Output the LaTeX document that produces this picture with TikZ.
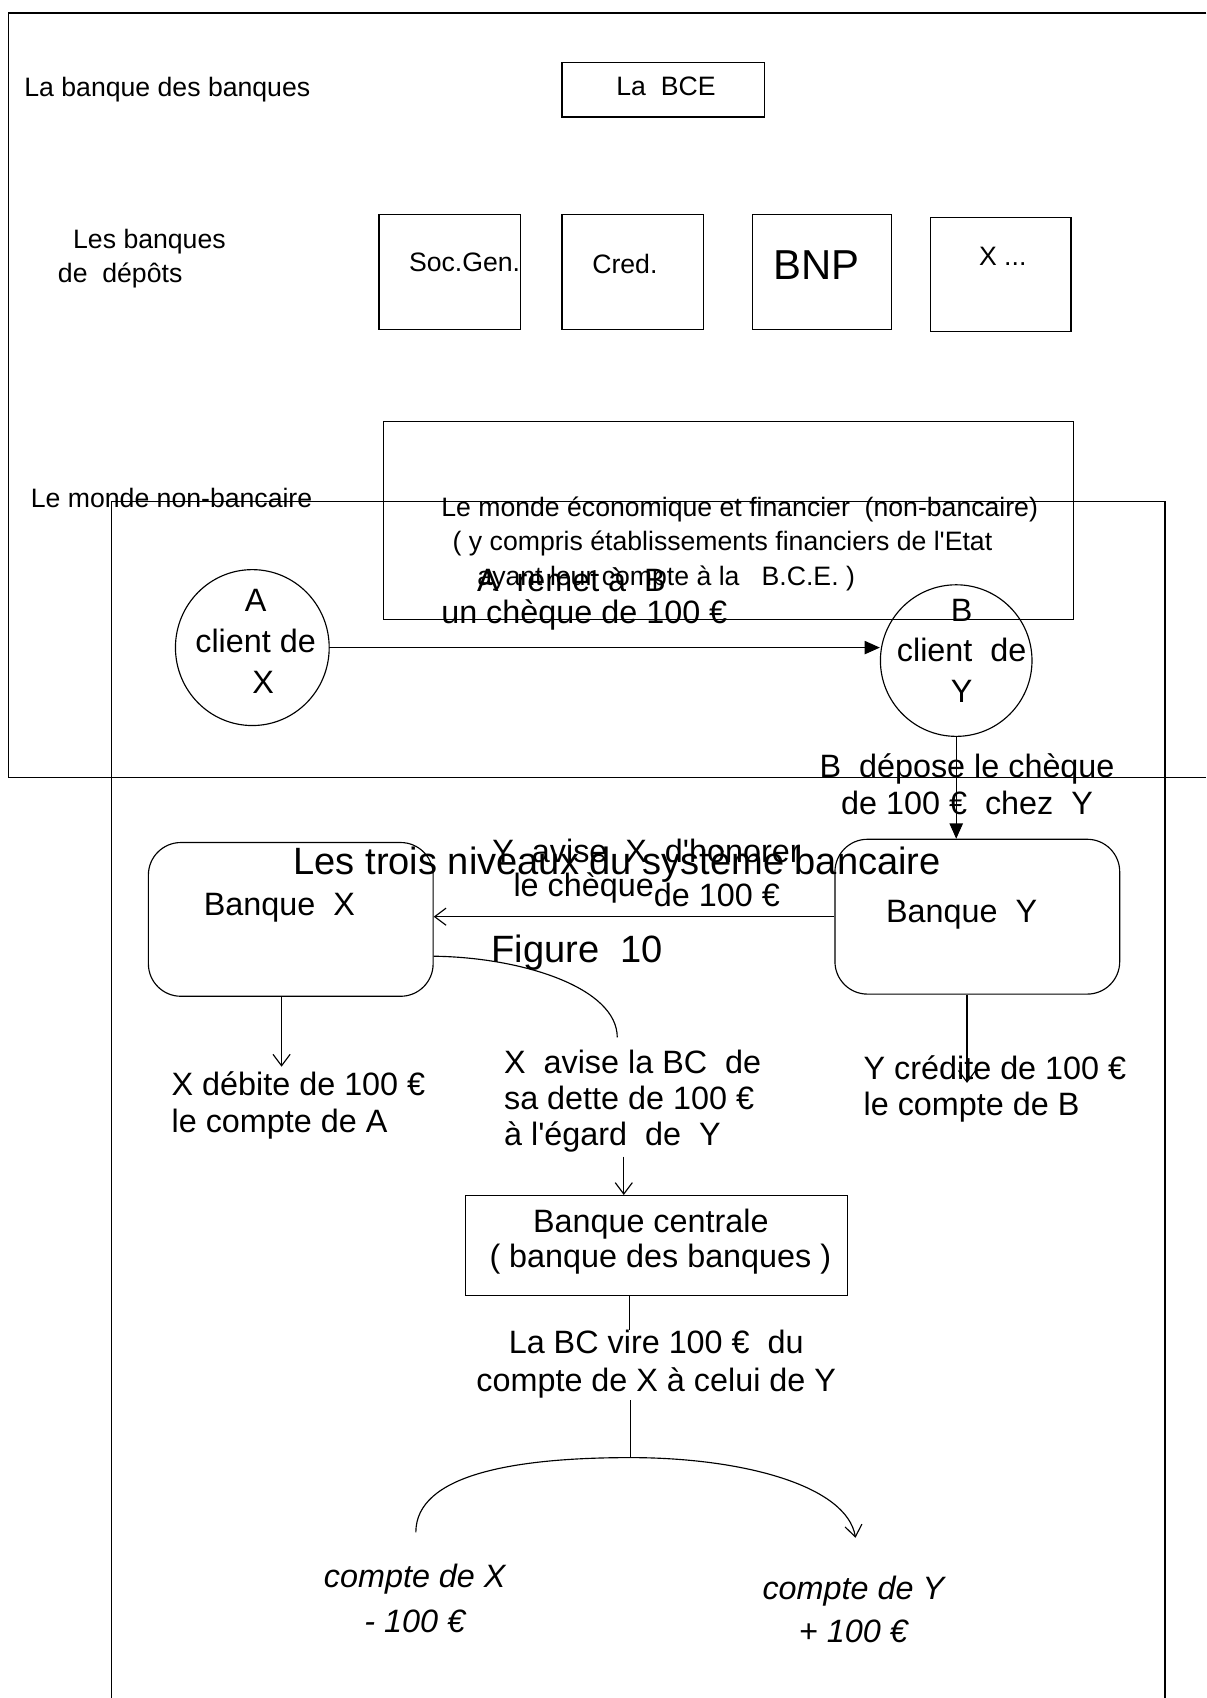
\documentclass[tikz,border=0pt]{standalone}
\usepackage{fontspec}
\setmainfont{Liberation Sans}[Ligatures=TeXOff]
\usetikzlibrary{arrows.meta,shapes.geometric}

\begin{document}
\begin{tikzpicture}[x=0.02cm, y=-0.02cm, line width=0.6pt,
    lbl/.style={font=\fontsize{14}{18}\selectfont, inner sep=0pt, align=left},
    lblbig/.style={font=\fontsize{17}{19.3}\selectfont, inner sep=0pt, align=left},
    lbltitle/.style={font=\fontsize{20}{24}\selectfont, inner sep=0pt},
    lblit/.style={font=\fontsize{17}{23.5}\selectfont\itshape, inner sep=0pt, align=center},
    box/.style={draw, inner sep=0pt},
    rbox/.style={draw, inner sep=0pt, rounded corners=0.6cm, minimum width=5.26cm},
    disc/.style={draw, ellipse, inner sep=0pt},
    fillarrow/.style={-{Triangle[length=8pt,width=7pt]}},
    openarrow/.style={-{Straight Barb[length=6pt,width=9pt]}}]
		%%%%% START %%%%%
		\useasboundingbox (0,0) rectangle (1114,1568);
		
		% the two page frames
		\draw[line width=0.8pt] (1114,12) -- (8,12) -- (8,718) -- (1114,718);
		\draw[line width=0.8pt] (103,1568) -- (103,463) -- (1076,463) -- (1076,1568);
		
		% top level
		\node[lbl, anchor=west] (lvlOne) at (22,83) {La banque des banques};
		\node[box, minimum width=3.74cm, minimum height=1cm] (bce) at (612.5,83) {};
		\node[lbl] (bceT) at (615,80) {La\ \ BCE};
		
		% deposit banks
		\node[lbl, anchor=west] (lvlTwo) at (53,239) {\hspace*{8pt}Les banques\\de\ \ dépôts};
		\node[box, minimum width=2.62cm, minimum height=2.12cm] (socgen) at (415.5,251) {};
		\node[box, minimum width=2.62cm, minimum height=2.12cm] (cred) at (584.5,251) {};
		\node[box, minimum width=2.56cm, minimum height=2.12cm] (bnp) at (759,251) {};
		\node[box, minimum width=2.6cm, minimum height=2.1cm] (xdots) at (924,253.5) {};
		\node[lbl] (socgenT) at (429,242) {Soc.Gen.};
		\node[lbl] (credT) at (577,244) {Cred.};
		\node[font=\fontsize{22}{26}\selectfont, inner sep=0pt] (bnpT) at (754,245) {BNP};
		\node[lbl] (xdotsT) at (926,237) {X ...};
		
		% non-bank world
		\node[lbl, anchor=west] (lvlThree) at (28,460) {Le monde non-bancaire};
		\node[box, minimum width=12.74cm, minimum height=3.66cm] (monde) at (672.5,480.5) {};
		\node[lbl, anchor=north west, font=\fontsize{14}{18.1}\selectfont] (mondeT) at (407,458)
		  {Le monde économique et financier\ \ (non-bancaire)\\
		   \hspace*{6pt}( y compris établissements financiers de l'Etat\\
		   \hspace*{19pt}ayant leur compte à la\ \ \ B.C.E. )};
		
		% customers
		\node[disc, minimum width=2.84cm, minimum height=2.88cm] (clientA) at (233,598) {};
		\node[disc, minimum width=2.8cm, minimum height=2.8cm] (clientB) at (883,610) {};
		\node[lblbig, align=center, font=\fontsize{17}{21.5}\selectfont] (clientAT) at (236,592) {A\\client de\\\hspace*{8pt}X};
		\node[lblbig, align=center, font=\fontsize{17}{21.5}\selectfont] (clientBT) at (888,601) {B\\client\ \ de\\Y};
		\node[lblbig, anchor=west] (remet) at (440,535) {A\ \ remet à\ \ B};
		\node[lblbig, anchor=west] (cheque) at (407,568) {un chèque de 100 €};
		\draw[fillarrow] (clientA.east) -- (clientA.east -| clientB.west);
		
		% deposit
		\node[lblbig, align=center] (depose) at (893,724) {B\ \ dépose le chèque\\de 100 €\ \ chez\ \ Y};
		
		% the banks
		\node[rbox, minimum height=2.84cm] (banqueX) at (268.5,849) {};
		\node[rbox, minimum height=2.86cm] (banqueY) at (902.5,846.5) {};
		\node[lblbig] (banqueXT) at (258,838) {Banque\ \ X};
		\node[lblbig] (banqueYT) at (888,845) {Banque\ \ Y};
		\draw[fillarrow] (clientB.south) -- (clientB.south |- banqueY.north);
		\node[lblbig] (avise) at (597,786) {Y\ \ avise\ \ X\ \ d'honorer};
		\node[lblbig] (aviseA) at (539,820) {le chèque};
		\node[lblbig] (aviseB) at (662,826) {de 100 €};
		\draw[openarrow] (banqueY.west) -- (banqueX.east |- banqueY.west);
		
		% titles of the two pages
		\node[lbltitle] (titre) at (570,798) {Les trois niveaux du système bancaire};
		\node[lbltitle] (figure) at (533,880) {Figure\ \ 10};
		
		% accounts at the banks
		\coordinate (debit) at (260,985);
		\coordinate (credit) at (893,1000);
		\draw[openarrow] (banqueX.south -| debit) -- (debit);
		\draw[openarrow] (banqueY.south -| credit) -- (credit);
		\node[lblbig, anchor=west] (debitT) at (158,1021) {X débite de 100 €\\le compte de A};
		\node[lblbig, anchor=west] (creditT) at (797,1005.5) {Y crédite de 100 €\\le compte de B};
		\coordinate (aviseTop) at (570,958);
		\draw (banqueX.east |- 0,883) .. controls (482,884) and (570,912) .. (aviseTop);
		\node[lblbig, anchor=west, font=\fontsize{17}{19}\selectfont] (aviseBC) at (465,1016.5)
		  {X\ \ avise la BC\ \ de\\sa dette de 100 €\\à l'égard\ \ de\ \ Y};
		
		% central bank
		\node[box, minimum width=7.06cm, minimum height=1.84cm] (bc) at (606.5,1150) {};
		\node[lblbig, align=center, font=\fontsize{17}{18.8}\selectfont] (bcT) at (601,1146.5) {Banque centrale\\\hspace*{10pt}( banque des banques )};
		\coordinate (aviseBot) at (576,1068);
		\draw[openarrow] (aviseBot) -- (bc.north -| aviseBot);
		\coordinate (vireTop) at (581,1228);
		\draw (bc.south -| vireTop) -- (vireTop);
		\node[lblbig, align=center, font=\fontsize{17}{19.8}\selectfont] (vire) at (606,1259.5) {La BC vire 100 €\ \ du\\compte de X à celui de Y};
		
		% transfer between the accounts
		\coordinate (vireBot) at (582,1293);
		\coordinate (arcTop) at (582,1346);
		\coordinate (arcL) at (384,1415);
		\coordinate (arcR) at (790,1420);
		\draw (vireBot) -- (arcTop);
		\draw[openarrow] (arcL) .. controls (384,1362) and (474,1346) .. (arcTop)
		  .. controls (686,1346) and (782,1372) .. (arcR);
		\node[lblit] (compteX) at (383,1476) {compte de X\\- 100 €};
		\node[lblit, font=\fontsize{17}{22.7}\selectfont\itshape] (compteY) at (788,1486) {compte de Y\\+ 100 €};
		
		%%%%% END %%%%%
	\end{tikzpicture}
\end{document}
